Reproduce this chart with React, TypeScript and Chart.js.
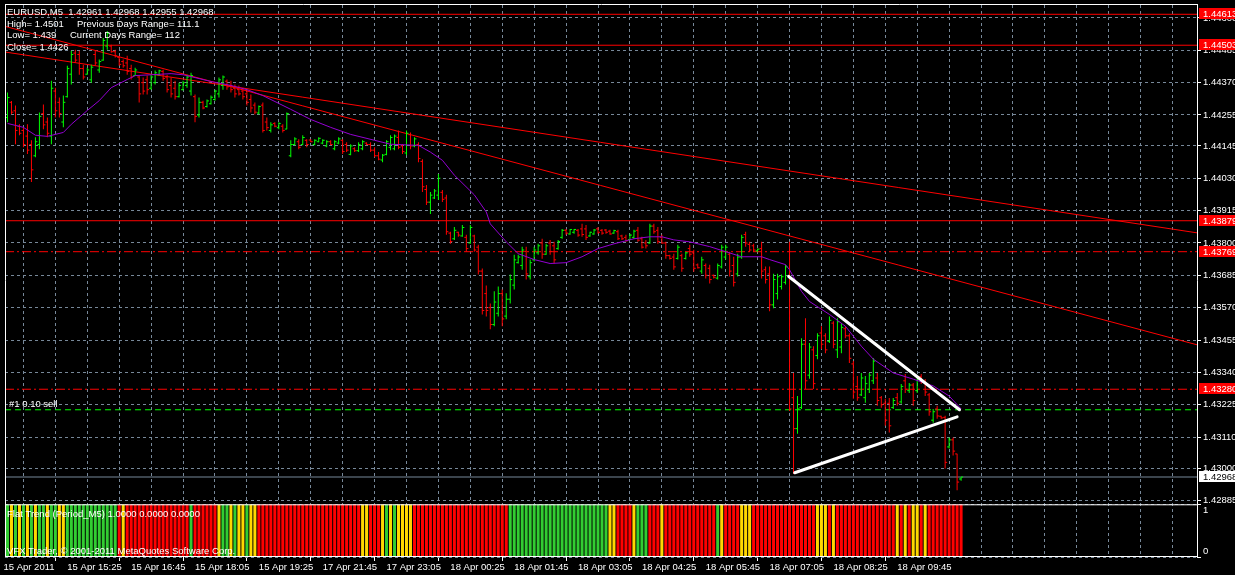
import { useEffect, useRef } from 'react';
import { Chart, registerables } from 'chart.js';

Chart.register(...registerables);

// ---------------- data ----------------
const SYMBOL_HEADER = 'EURUSD,M5  1.42961 1.42968 1.42955 1.42968';
const INFO_LEFT = ['High= 1.4501', 'Low= 1.439', 'Close= 1.4426'];
const INFO_RIGHT = ['Previous Days Range= 111.1', 'Current Days Range= 112'];
const INDICATOR_TITLE = 'Flat Trend (Period_M5) 1.0000 0.0000 0.0000';
const COPYRIGHT = 'VFX Trader, \u00a9 2001-2011 MetaQuotes Software Corp.';
const ORDER_LABEL = '#1 0.10 sell';

const TIME_LABELS = [
  '15 Apr 2011', '15 Apr 15:25', '15 Apr 16:45', '15 Apr 18:05', '15 Apr 19:25',
  '17 Apr 21:45', '17 Apr 23:05', '18 Apr 00:25', '18 Apr 01:45', '18 Apr 03:05',
  '18 Apr 04:25', '18 Apr 05:45', '18 Apr 07:05', '18 Apr 08:25', '18 Apr 09:45',
];
const PRICE_TICKS = [
  1.446, 1.44485, 1.4437, 1.44255, 1.44145, 1.4403, 1.43915, 1.438,
  1.43685, 1.4357, 1.43455, 1.4334, 1.43225, 1.4311, 1.43, 1.42885,
];
const SUB_TICKS = [0, 1];

const OPEN = [
  1.44246,1.44300,1.44270,1.44215,1.44200,1.44180,1.44150,1.44110,1.44150,1.44260,
  1.44230,1.44180,1.44340,1.44300,1.44230,1.44320,1.44400,1.44475,1.44470,1.44420,
  1.44400,1.44380,1.44470,1.44415,1.44450,1.44500,1.44500,1.44480,1.44460,1.44445,
  1.44440,1.44420,1.44395,1.44390,1.44370,1.44380,1.44350,1.44370,1.44398,1.44410,
  1.44390,1.44360,1.44350,1.44320,1.44345,1.44360,1.44340,1.44320,1.44255,1.44300,
  1.44285,1.44295,1.44310,1.44330,1.44360,1.44375,1.44360,1.44350,1.44345,1.44340,
  1.44330,1.44310,1.44290,1.44262,1.44290,1.44230,1.44200,1.44225,1.44210,1.44215,
  1.44205,1.44110,1.44150,1.44160,1.44150,1.44165,1.44166,1.44150,1.44160,1.44155,
  1.44145,1.44160,1.44135,1.44155,1.44165,1.44150,1.44115,1.44135,1.44128,1.44135,
  1.44155,1.44150,1.44130,1.44110,1.44095,1.44115,1.44140,1.44135,1.44175,1.44145,
  1.44120,1.44185,1.44145,1.44150,1.44090,1.43990,1.43945,1.43960,1.43970,1.43980,
  1.43960,1.43835,1.43815,1.43838,1.43825,1.43820,1.43800,1.43825,1.43785,1.43700,
  1.43620,1.43570,1.43510,1.43550,1.43620,1.43540,1.43600,1.43650,1.43730,1.43720,
  1.43770,1.43680,1.43740,1.43765,1.43800,1.43760,1.43800,1.43790,1.43780,1.43820,
  1.43845,1.43832,1.43838,1.43845,1.43850,1.43850,1.43825,1.43832,1.43850,1.43845,
  1.43846,1.43842,1.43835,1.43840,1.43825,1.43820,1.43812,1.43820,1.43845,1.43815,
  1.43800,1.43800,1.43860,1.43845,1.43820,1.43800,1.43755,1.43750,1.43745,1.43755,
  1.43745,1.43780,1.43765,1.43722,1.43700,1.43720,1.43710,1.43685,1.43675,1.43715,
  1.43750,1.43760,1.43720,1.43690,1.43750,1.43830,1.43795,1.43790,1.43772,1.43780,
  1.43705,1.43690,1.43580,1.43620,1.43645,1.43660,1.43681,1.43250,1.43140,1.43215,
  1.43440,1.43330,1.43420,1.43400,1.43480,1.43470,1.43450,1.43515,1.43420,1.43430,
  1.43495,1.43470,1.43370,1.43290,1.43260,1.43250,1.43280,1.43310,1.43320,1.43250,
  1.43230,1.43230,1.43215,1.43250,1.43235,1.43310,1.43275,1.43295,1.43275,1.43325,
  1.43305,1.43260,1.43170,1.43210,1.43184,1.43180,1.43075,1.43100,1.43050,1.42961,
];
const HIGH = [
  1.44335,1.44305,1.44289,1.44222,1.44211,1.44222,1.44165,1.44176,1.44264,1.44292,
  1.44246,1.44377,1.44352,1.44317,1.44324,1.44430,1.44483,1.44487,1.44483,1.44434,
  1.44423,1.44434,1.44483,1.44452,1.44529,1.44554,1.44505,1.44487,1.44466,1.44452,
  1.44466,1.44434,1.44423,1.44395,1.44388,1.44395,1.44398,1.44413,1.44416,1.44416,
  1.44398,1.44388,1.44377,1.44370,1.44377,1.44398,1.44405,1.44328,1.44317,1.44306,
  1.44310,1.44324,1.44345,1.44388,1.44395,1.44381,1.44377,1.44363,1.44360,1.44352,
  1.44345,1.44328,1.44299,1.44289,1.44299,1.44246,1.44229,1.44229,1.44229,1.44222,
  1.44264,1.44165,1.44176,1.44169,1.44183,1.44169,1.44169,1.44169,1.44176,1.44169,
  1.44165,1.44165,1.44165,1.44176,1.44169,1.44158,1.44151,1.44140,1.44158,1.44165,
  1.44158,1.44158,1.44140,1.44123,1.44116,1.44165,1.44183,1.44186,1.44200,1.44151,
  1.44200,1.44193,1.44176,1.44158,1.44098,1.44006,1.43981,1.43992,1.44045,1.43988,
  1.43971,1.43840,1.43857,1.43840,1.43864,1.43829,1.43864,1.43829,1.43794,1.43709,
  1.43649,1.43585,1.43628,1.43645,1.43635,1.43621,1.43688,1.43758,1.43758,1.43787,
  1.43787,1.43741,1.43787,1.43797,1.43815,1.43797,1.43811,1.43804,1.43811,1.43850,
  1.43850,1.43850,1.43850,1.43850,1.43868,1.43864,1.43840,1.43850,1.43857,1.43850,
  1.43850,1.43847,1.43847,1.43847,1.43829,1.43829,1.43833,1.43847,1.43857,1.43822,
  1.43811,1.43868,1.43868,1.43857,1.43829,1.43804,1.43758,1.43762,1.43794,1.43762,
  1.43769,1.43794,1.43776,1.43727,1.43751,1.43727,1.43723,1.43688,1.43727,1.43794,
  1.43794,1.43769,1.43751,1.43762,1.43829,1.43840,1.43804,1.43797,1.43780,1.43804,
  1.43716,1.43716,1.43691,1.43691,1.43688,1.43723,1.43804,1.43338,1.43256,1.43461,
  1.43532,1.43444,1.43433,1.43479,1.43504,1.43479,1.43539,1.43522,1.43532,1.43515,
  1.43504,1.43479,1.43380,1.43327,1.43338,1.43327,1.43338,1.43391,1.43338,1.43256,
  1.43246,1.43249,1.43249,1.43267,1.43299,1.43334,1.43302,1.43302,1.43327,1.43334,
  1.43316,1.43267,1.43210,1.43221,1.43186,1.43186,1.43108,1.43108,1.43051,1.42968,
];
const LOW = [
  1.44229,1.44258,1.44151,1.44183,1.44140,1.44116,1.44017,1.44105,1.44133,1.44204,
  1.44176,1.44151,1.44246,1.44246,1.44211,1.44317,1.44363,1.44441,1.44398,1.44381,
  1.44398,1.44370,1.44430,1.44405,1.44448,1.44487,1.44476,1.44459,1.44430,1.44423,
  1.44398,1.44381,1.44395,1.44299,1.44328,1.44328,1.44345,1.44363,1.44395,1.44377,
  1.44335,1.44317,1.44310,1.44317,1.44342,1.44352,1.44324,1.44229,1.44246,1.44275,
  1.44282,1.44292,1.44306,1.44317,1.44345,1.44345,1.44335,1.44317,1.44324,1.44310,
  1.44289,1.44264,1.44257,1.44257,1.44193,1.44200,1.44193,1.44211,1.44204,1.44193,
  1.44204,1.44105,1.44147,1.44133,1.44147,1.44140,1.44158,1.44147,1.44158,1.44151,
  1.44140,1.44147,1.44130,1.44151,1.44116,1.44123,1.44112,1.44123,1.44123,1.44130,
  1.44147,1.44123,1.44105,1.44094,1.44087,1.44112,1.44130,1.44130,1.44133,1.44116,
  1.44112,1.44133,1.44140,1.44087,1.43981,1.43935,1.43903,1.43956,1.43953,1.43946,
  1.43829,1.43797,1.43811,1.43822,1.43822,1.43769,1.43797,1.43769,1.43688,1.43546,
  1.43539,1.43493,1.43504,1.43539,1.43504,1.43529,1.43585,1.43635,1.43727,1.43705,
  1.43670,1.43670,1.43734,1.43758,1.43744,1.43758,1.43758,1.43727,1.43776,1.43815,
  1.43829,1.43829,1.43833,1.43822,1.43822,1.43811,1.43822,1.43829,1.43833,1.43829,
  1.43833,1.43829,1.43833,1.43811,1.43811,1.43804,1.43811,1.43815,1.43804,1.43780,
  1.43780,1.43797,1.43833,1.43797,1.43797,1.43744,1.43741,1.43705,1.43741,1.43698,
  1.43741,1.43751,1.43698,1.43709,1.43691,1.43674,1.43656,1.43674,1.43670,1.43709,
  1.43741,1.43681,1.43645,1.43681,1.43744,1.43787,1.43769,1.43769,1.43769,1.43674,
  1.43656,1.43557,1.43568,1.43599,1.43635,1.43652,1.43203,1.42980,1.43122,1.43210,
  1.43281,1.43317,1.43281,1.43387,1.43423,1.43408,1.43444,1.43426,1.43391,1.43408,
  1.43461,1.43373,1.43246,1.43239,1.43256,1.43232,1.43267,1.43299,1.43221,1.43214,
  1.43150,1.43126,1.43210,1.43221,1.43228,1.43267,1.43267,1.43221,1.43267,1.43299,
  1.43256,1.43186,1.43161,1.43175,1.43175,1.42998,1.43069,1.43044,1.42921,1.42955,
];
const CLOSE = [
  1.44317,1.44265,1.44200,1.44190,1.44150,1.44130,1.44060,1.44160,1.44250,1.44220,
  1.44190,1.44350,1.44270,1.44260,1.44300,1.44420,1.44470,1.44450,1.44420,1.44390,
  1.44415,1.44425,1.44440,1.44445,1.44520,1.44545,1.44480,1.44465,1.44435,1.44430,
  1.44410,1.44390,1.44415,1.44330,1.44340,1.44345,1.44390,1.44405,1.44412,1.44385,
  1.44345,1.44330,1.44320,1.44360,1.44370,1.44390,1.44395,1.44250,1.44300,1.44280,
  1.44305,1.44318,1.44340,1.44380,1.44390,1.44355,1.44345,1.44330,1.44330,1.44320,
  1.44300,1.44280,1.44265,1.44285,1.44200,1.44210,1.44220,1.44215,1.44225,1.44200,
  1.44260,1.44150,1.44170,1.44140,1.44175,1.44150,1.44160,1.44165,1.44172,1.44165,
  1.44160,1.44150,1.44160,1.44170,1.44125,1.44130,1.44145,1.44128,1.44150,1.44160,
  1.44150,1.44130,1.44110,1.44098,1.44112,1.44160,1.44175,1.44180,1.44140,1.44125,
  1.44190,1.44145,1.44170,1.44100,1.44000,1.43945,1.43970,1.43985,1.44030,1.43955,
  1.43840,1.43805,1.43845,1.43828,1.43855,1.43780,1.43855,1.43775,1.43700,1.43560,
  1.43560,1.43510,1.43590,1.43620,1.43530,1.43600,1.43670,1.43740,1.43750,1.43775,
  1.43690,1.43730,1.43775,1.43790,1.43760,1.43790,1.43770,1.43740,1.43805,1.43845,
  1.43835,1.43848,1.43848,1.43828,1.43830,1.43820,1.43838,1.43846,1.43838,1.43835,
  1.43838,1.43832,1.43844,1.43815,1.43815,1.43808,1.43828,1.43842,1.43810,1.43785,
  1.43790,1.43860,1.43840,1.43805,1.43800,1.43755,1.43745,1.43715,1.43785,1.43710,
  1.43765,1.43760,1.43710,1.43712,1.43740,1.43685,1.43670,1.43678,1.43720,1.43785,
  1.43785,1.43700,1.43660,1.43750,1.43820,1.43800,1.43775,1.43775,1.43778,1.43700,
  1.43670,1.43580,1.43670,1.43680,1.43680,1.43715,1.43210,1.43140,1.43210,1.43440,
  1.43310,1.43430,1.43300,1.43470,1.43440,1.43420,1.43525,1.43440,1.43520,1.43500,
  1.43470,1.43390,1.43270,1.43250,1.43320,1.43300,1.43330,1.43380,1.43240,1.43225,
  1.43170,1.43150,1.43240,1.43230,1.43290,1.43280,1.43295,1.43240,1.43320,1.43305,
  1.43270,1.43200,1.43200,1.43185,1.43178,1.43020,1.43100,1.43060,1.42950,1.42968,
];

// Flat Trend indicator state per bar: G = up, Y = flat, R = down
const FLAT_TREND =
  'GYGYGYGYGG' + 'YGGYYGGGGG' + 'GGGGGGGGRY' + 'RRRRRRRRRR' +
  'RRRRRRGRRR' + 'RRRYGGYGYY' + 'GYYRRRRRRR' + 'RRRRRRRRRR' +
  'RRRRRRRRRY' + 'YRRRYGYGYY' + 'YYRRRRRRRR' + 'RRRRRRRRRR' +
  'RRRRRRGGGG' + 'GGGGGGGGGG' + 'GGGGGGGGGG' + 'GYYRRRRYGG' +
  'GRRRYRRRRR' + 'RRRRRRRRGY' + 'RRRRYYYRRR' + 'RRRRRRRRRR' +
  'RRRYYYRYRR' + 'RRRRRRRRRR' + 'RRRYRYRYYR' + 'YRRRRRRRRR';
const FLAT_TREND_VALUE = 1;

// moving average (purple), sampled along the curve
const MA_BARS = [
  0,4,7,10,14,16,20,23,26,30,32,36,41,44,47,51,56,60,64,71,
  76,81,86,92,96,103,106,109,112,117,120,121,125,128,132,136,140,144,148,152,
  157,161,164,167,171,176,180,184,189,191,195,196,199,201,206,210,214,217,222,227,
  232,236,239,
];
const MA_VALUES = [
  1.44225,1.44211,1.44183,1.44179,1.44193,1.44222,1.44271,1.44306,1.44352,1.44381,
  1.44395,1.44398,1.44402,1.44398,1.44388,1.44374,1.44360,1.44345,1.44324,1.44275,
  1.44239,1.44211,1.44186,1.44165,1.44151,1.44147,1.44123,1.44094,1.44041,1.43971,
  1.43910,1.43868,1.43804,1.43762,1.43741,1.43727,1.43730,1.43751,1.43780,1.43797,
  1.43815,1.43822,1.43822,1.43811,1.43804,1.43787,1.43769,1.43751,1.43751,1.43741,
  1.43723,1.43705,1.43628,1.43592,1.43546,1.43504,1.43433,1.43387,1.43338,1.43316,
  1.43292,1.43256,1.43210,
];

// red trend lines: [bar, price] anchors
const TRENDLINE_STEEP = [[-1.125, 1.44572], [298.125, 1.43438]];
const TRENDLINE_FLAT = [[-1.125, 1.4448], [298.125, 1.43836]];
// white triangle
const TRIANGLE_UPPER = [[195.8, 1.43681], [238.6, 1.43207]];
const TRIANGLE_LOWER = [[197.3, 1.42983], [238.0, 1.43182]];

// horizontal levels
const SOLID_LEVELS = [1.44613, 1.44503, 1.43879];
const DASHDOT_LEVELS = [1.43769, 1.4328];
const SELL_LEVEL = 1.43207;
const BID_PRICE = 1.42968;
const RED_TAGS = [1.44613, 1.44503, 1.43879, 1.43769, 1.4328];

// ---------------- view settings ----------------
const X_MIN = -0.625;
const X_MAX = 298.125;
const Y_MIN = 1.42871;
const Y_MAX = 1.44646;
const GRID = '#778899';
const FONT_FAMILY = '"Liberation Sans", Arial, sans-serif';
const FONT_SIZE = 9.5;
const FONT = `${FONT_SIZE}px ${FONT_FAMILY}`;
const UP = '#00FF00';
const DOWN = '#FF0000';
const TREND_COLORS: Record<string, string> = { G: '#32CD32', Y: '#FFD700', R: '#FF0000' };

const BARS = OPEN.map((_, i) => i);
const barColor = (i: number) => (CLOSE[i] >= OPEN[i] ? UP : DOWN);
const gridTicks: number[] = [];
for (let v = 0; v <= X_MAX; v += 8) gridTicks.push(v);
const timeLabel = (v: number) =>
  v % 16 === 0 && v / 16 < TIME_LABELS.length ? TIME_LABELS[v / 16] : '';

const segment = (pts: number[][]) => pts.map(([x, y]) => ({ x, y }));
const hline = (v: number, color: string, dash: number[], order: number) => ({
  type: 'line',
  yAxisID: 'y',
  data: [{ x: X_MIN, y: v }, { x: X_MAX, y: v }],
  borderColor: color,
  borderWidth: 1,
  borderDash: dash,
  pointRadius: 0,
  order,
});

const overlay = {
  id: 'overlay',
  afterDatasetsDraw(chart: any) {
    const ctx = chart.ctx;
    const y = chart.scales.y;
    const y2 = chart.scales.y2;
    ctx.save();
    ctx.font = FONT;
    ctx.fillStyle = '#FFFFFF';
    ctx.textBaseline = 'middle';
    ctx.textAlign = 'left';
    ctx.fillText(SYMBOL_HEADER, 7, y.top + 7);
    ctx.fillText(INFO_LEFT[0], 7, y.top + 19);
    ctx.fillText(INFO_RIGHT[0], 77, y.top + 19);
    ctx.fillText(INFO_LEFT[1], 7, y.top + 30.5);
    ctx.fillText(INFO_RIGHT[1], 70, y.top + 30.5);
    ctx.fillText(INFO_LEFT[2], 7, y.top + 42);
    ctx.fillText(ORDER_LABEL, 9, y.getPixelForValue(SELL_LEVEL) - 5);
    ctx.fillText(INDICATOR_TITLE, 7, y2.top + 10);
    ctx.fillText(COPYRIGHT, 7, y2.bottom - 6);
    ctx.restore();
  },
  afterDraw(chart: any) {
    const ctx = chart.ctx;
    const { left, right } = chart.chartArea;
    const y = chart.scales.y;
    const y2 = chart.scales.y2;
    ctx.save();
    ctx.strokeStyle = '#FFFFFF';
    ctx.lineWidth = 1;
    ctx.beginPath();
    ctx.moveTo(left + 0.5, y.top - 0.5);
    ctx.lineTo(left + 0.5, y2.bottom);
    ctx.moveTo(left, y.top - 0.5);
    ctx.lineTo(right + 1, y.top - 0.5);
    ctx.moveTo(right + 0.5, y.top - 0.5);
    ctx.lineTo(right + 0.5, y2.bottom);
    ctx.moveTo(left, y2.top + 0.5);
    ctx.lineTo(right + 1, y2.top + 0.5);
    ctx.moveTo(left, y2.bottom - 0.5);
    ctx.lineTo(right + 1, y2.bottom - 0.5);
    ctx.stroke();

    ctx.font = FONT;
    ctx.textBaseline = 'middle';
    ctx.textAlign = 'left';
    const tag = (v: number, bg: string, fg: string) => {
      const py = Math.round(y.getPixelForValue(v));
      ctx.fillStyle = bg;
      ctx.fillRect(right + 2, py - 6, 40, 11);
      ctx.fillStyle = fg;
      ctx.fillText(v.toFixed(5), right + 6, py);
    };
    RED_TAGS.forEach((v) => tag(v, '#FF0000', '#FFFFFF'));
    tag(BID_PRICE, '#FFFFFF', '#000000');
    ctx.restore();
  },
};

export default function App() {
  const ref = useRef<HTMLCanvasElement>(null);
  useEffect(() => {
    const canvas = ref.current;
    if (!canvas) return;
    const datasets: any[] = [
      // white triangle on top
      { type: 'line', yAxisID: 'y', data: segment(TRIANGLE_UPPER), borderColor: '#FFFFFF', borderWidth: 3, borderCapStyle: 'round', pointRadius: 0, order: 0 },
      { type: 'line', yAxisID: 'y', data: segment(TRIANGLE_LOWER), borderColor: '#FFFFFF', borderWidth: 3, borderCapStyle: 'round', pointRadius: 0, order: 0 },
      // moving average
      { type: 'line', yAxisID: 'y', data: MA_BARS.map((b, k) => ({ x: b, y: MA_VALUES[k] })), borderColor: '#9400D3', borderWidth: 1, pointRadius: 0, order: 1 },
      // OHLC bars
      {
        type: 'bar', yAxisID: 'y', grouped: false,
        data: BARS.map((i) => ({ x: i, y: [LOW[i], HIGH[i]] })),
        backgroundColor: BARS.map(barColor), borderWidth: 0,
        barThickness: 1, maxBarThickness: 1, inflateAmount: 0, order: 2,
      },
      {
        type: 'line', yAxisID: 'y', showLine: false,
        data: BARS.map((i) => ({ x: i - 0.25, y: OPEN[i] })),
        pointStyle: 'line', pointRadius: 1, pointBorderWidth: 1,
        pointBorderColor: BARS.map(barColor), order: 2,
      },
      {
        type: 'line', yAxisID: 'y', showLine: false,
        data: BARS.map((i) => ({ x: i + 0.25, y: CLOSE[i] })),
        pointStyle: 'line', pointRadius: 1, pointBorderWidth: 1,
        pointBorderColor: BARS.map(barColor), order: 2,
      },
      // trend lines
      { type: 'line', yAxisID: 'y', data: segment(TRENDLINE_STEEP), borderColor: '#FF0000', borderWidth: 1, pointRadius: 0, order: 3 },
      { type: 'line', yAxisID: 'y', data: segment(TRENDLINE_FLAT), borderColor: '#FF0000', borderWidth: 1, pointRadius: 0, order: 3 },
      // horizontal levels
      ...SOLID_LEVELS.map((v) => hline(v, '#FF0000', [], 4)),
      ...DASHDOT_LEVELS.map((v) => hline(v, '#FF0000', [9, 3, 2, 3], 4)),
      hline(SELL_LEVEL, '#00FF00', [6, 4], 4),
      hline(BID_PRICE, GRID, [], 4),
      // Flat Trend histogram
      {
        type: 'bar', yAxisID: 'y2', grouped: false,
        data: BARS.map((i) => ({ x: i, y: FLAT_TREND_VALUE })),
        backgroundColor: BARS.map((i) => TREND_COLORS[FLAT_TREND[i]] || '#FF0000'),
        borderWidth: 0, barThickness: 3, maxBarThickness: 3, inflateAmount: 0, order: 5,
      },
    ];

    const font = { family: FONT_FAMILY, size: FONT_SIZE };
    const chart = new Chart(canvas, {
      type: 'bar',
      data: { datasets },
      plugins: [overlay],
      options: {
        animation: false,
        responsive: false,
        maintainAspectRatio: false,
        devicePixelRatio: 1,
        events: [],
        layout: { padding: { left: 2, top: 2, right: 0, bottom: 0 } },
        plugins: { legend: { display: false }, tooltip: { enabled: false } },
        scales: {
          x: {
            type: 'linear', min: X_MIN, max: X_MAX, offset: false,
            afterBuildTicks: (s: any) => { s.ticks = gridTicks.map((v) => ({ value: v })); },
            afterFit: (s: any) => { s.height = 18; s.paddingLeft = 0; s.paddingRight = 0; },
            grid: {
              color: (c: any) => (c.tick && c.tick.value === 0 ? 'rgba(0,0,0,0)' : GRID),
              tickColor: (c: any) => (c.tick && timeLabel(c.tick.value) ? '#FFFFFF' : 'rgba(0,0,0,0)'),
              tickLength: 4, lineWidth: 1,
            },
            border: { display: false, dash: [3, 3] },
            ticks: {
              color: '#FFFFFF', font, autoSkip: false, maxRotation: 0, minRotation: 0,
              align: 'start', padding: 1, labelOffset: -4,
              callback: (v: any) => timeLabel(Number(v)),
            },
          },
          y: {
            type: 'linear', position: 'right', stack: 'panes', stackWeight: 502,
            min: Y_MIN, max: Y_MAX,
            afterBuildTicks: (s: any) => { s.ticks = PRICE_TICKS.map((v) => ({ value: v })); },
            afterFit: (s: any) => { s.width = 38; s.paddingTop = 0; s.paddingBottom = 0; },
            grid: { color: GRID, tickColor: '#FFFFFF', tickLength: 4 },
            border: { display: false, dash: [3, 3] },
            ticks: { color: '#FFFFFF', font, padding: 2, autoSkip: false, callback: (v: any) => Number(v).toFixed(5) },
          },
          y2: {
            type: 'linear', position: 'right', stack: 'panes', stackWeight: 53,
            min: 0, max: 1,
            afterBuildTicks: (s: any) => { s.ticks = SUB_TICKS.map((v) => ({ value: v })); },
            afterFit: (s: any) => { s.width = 38; s.paddingTop = 0; s.paddingBottom = 0; },
            grid: { color: GRID, tickColor: '#FFFFFF', tickLength: 4 },
            border: { display: false, dash: [3, 3] },
            ticks: {
              color: '#FFFFFF', font, padding: 2, autoSkip: false,
              callback: (v: any) => (Number(v) === 1 ? ['', '1'] : ['0', '']),
            },
          },
        },
      } as any,
    } as any);
    return () => chart.destroy();
  }, []);

  return (
    <div style={{ position: 'absolute', left: 0, top: 0, width: 1235, height: 575, background: '#000000' }}>
      <canvas ref={ref} width={1235} height={575} style={{ display: 'block', width: 1235, height: 575 }} />
    </div>
  );
}
